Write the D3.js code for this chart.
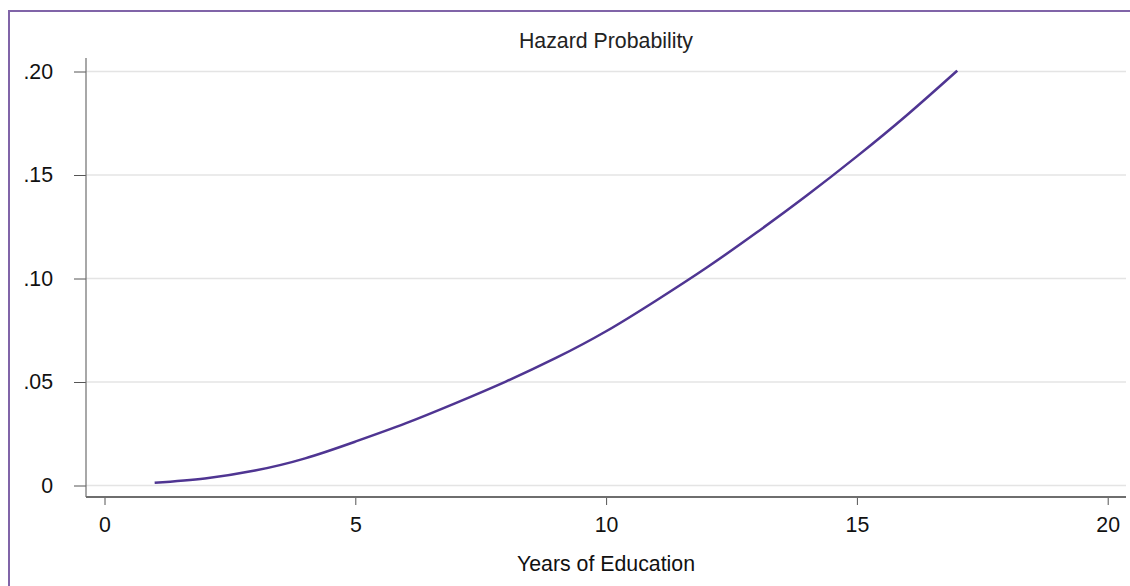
<!DOCTYPE html>
<html>
<head>
<meta charset="utf-8">
<script src="https://cdn.jsdelivr.net/npm/d3@7"></script>
<style>
  body { margin: 0; background: white; }
  svg { display: block; font-family: "Liberation Sans", Arial, sans-serif; }
</style>
</head>
<body>
<div id="chart"></div>
<script>
const years = [1, 2, 3, 4, 5, 6, 7, 8, 9, 10, 11, 12, 13, 14, 15, 16, 17]
const hazard = [0.0013, 0.0034, 0.0072, 0.0131, 0.0212, 0.0300, 0.0398, 0.0502, 0.0616, 0.0745,
                0.0894, 0.1052, 0.1222, 0.1401, 0.1590, 0.1790, 0.2004]
const xTicks = [0, 5, 10, 15, 20]
const yTicks = [0, 0.05, 0.10, 0.15, 0.20]
const titleText = "Hazard Probability"
const xTitle = "Years of Education"

const W = 1130, H = 586
const plot = { left: 86, right: 1126, top: 58, bottom: 497 }
const fontSize = 21.3

const svg = d3.select("#chart").append("svg").attr("width", W).attr("height", H)

// outer frame, runs off the right and bottom edges
svg.append("rect")
  .attr("x", 9).attr("y", 11)
  .attr("width", W + 20).attr("height", H + 20)
  .attr("fill", "none")
  .attr("stroke", "#8064a8")
  .attr("stroke-width", 2)

const x = d3.scaleLinear().domain([0, 20]).range([104.5, 1107.7])
const y = d3.scaleLinear().domain([0, 0.2]).range([485.5, 71.5])

// Stata style labels: .05, .10 ... and plain 0
const fmtY = d => d === 0 ? "0" : d3.format(".2f")(d).replace(/^0/, "")

// gridlines
svg.append("g")
  .selectAll("line")
  .data(yTicks)
  .join("line")
  .attr("x1", plot.left).attr("x2", plot.right)
  .attr("y1", d => y(d)).attr("y2", d => y(d))
  .attr("stroke", "#e4e4e4")
  .attr("stroke-width", 1.5)

// y axis
const yAxis = svg.append("g")
  .attr("transform", `translate(${plot.left},0)`)
  .call(d3.axisLeft(y).tickValues(yTicks).tickFormat(fmtY).tickSize(12).tickPadding(21))
yAxis.select(".domain").remove()
yAxis.selectAll(".tick line").attr("stroke", "#555")
yAxis.selectAll(".tick text").attr("font-size", fontSize).attr("fill", "#111")
  .attr("font-family", "Liberation Sans, Arial, sans-serif")

// x axis
const xAxis = svg.append("g")
  .attr("transform", `translate(0,${plot.bottom})`)
  .call(d3.axisBottom(x).tickValues(xTicks).tickFormat(d3.format("d")).tickSize(8).tickPadding(12))
xAxis.select(".domain").remove()
xAxis.selectAll(".tick line").attr("stroke", "#555")
xAxis.selectAll(".tick text").attr("font-size", fontSize).attr("fill", "#111")
  .attr("font-family", "Liberation Sans, Arial, sans-serif")

// axis lines (they run past the scale range)
svg.append("line")
  .attr("x1", plot.left).attr("x2", plot.left)
  .attr("y1", plot.top).attr("y2", plot.bottom)
  .attr("stroke", "#6e6e6e").attr("stroke-width", 1.2)
svg.append("line")
  .attr("x1", plot.left).attr("x2", plot.right)
  .attr("y1", plot.bottom).attr("y2", plot.bottom)
  .attr("stroke", "#6e6e6e").attr("stroke-width", 2)

// hazard curve
const pts = years.map((d, i) => [d, hazard[i]])
const line = d3.line()
  .x(d => x(d[0]))
  .y(d => y(d[1]))
  .curve(d3.curveNatural)

svg.append("path")
  .datum(pts)
  .attr("d", line)
  .attr("fill", "none")
  .attr("stroke", "#4f3592")
  .attr("stroke-width", 2.5)

// titles
svg.append("text")
  .attr("x", 606).attr("y", 48)
  .attr("text-anchor", "middle")
  .attr("font-size", fontSize)
  .attr("fill", "#222")
  .text(titleText)

svg.append("text")
  .attr("x", 606).attr("y", 571)
  .attr("text-anchor", "middle")
  .attr("font-size", fontSize)
  .attr("fill", "#111")
  .text(xTitle)
</script>
</body>
</html>
